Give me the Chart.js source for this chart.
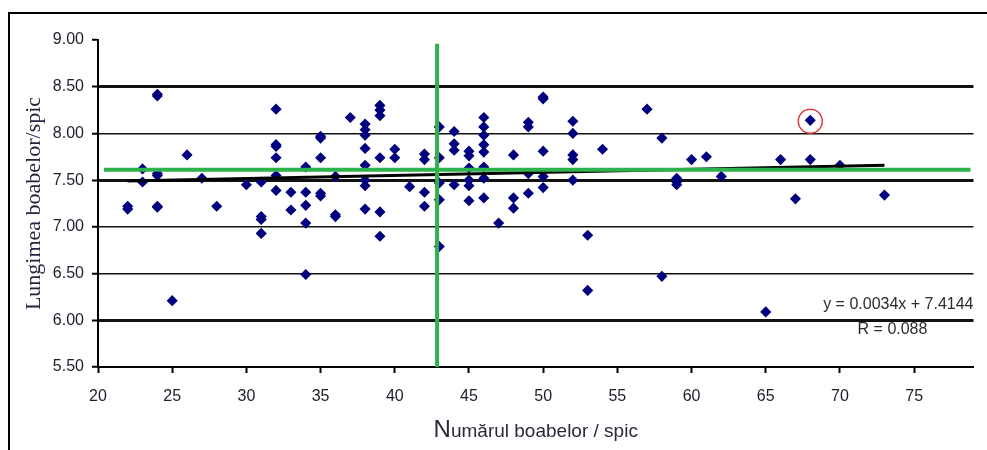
<!DOCTYPE html>
<html>
<head>
<meta charset="utf-8">
<title>Lungimea boabelor / spic</title>
<script src="https://cdn.jsdelivr.net/npm/chart.js@4.4.1/dist/chart.umd.min.js"></script>
<style>
  html, body { margin: 0; padding: 0; background: #fff; }
  #wrap { position: relative; width: 987px; height: 450px; overflow: hidden; }
  #frame {
    position: absolute; left: 8px; top: 12px; width: 1000px; height: 460px;
    border-left: 2px solid #000; border-top: 2px solid #000; pointer-events: none;
  }
</style>
</head>
<body>
<div id="wrap">
  <canvas id="chart" width="987" height="450"></canvas>
  <div id="frame"></div>
</div>
<script>
// Numarul boabelor / spic (x) and lungimea boabelor / spic (y), one entry per plant
const grainCount = [
    22, 22, 23, 23, 24, 24, 24, 24, 24, 24, 25, 26, 27, 28, 30,
    31, 31, 31, 31, 32, 32, 32, 32, 32, 32, 33, 33,
    34, 34, 34, 34, 34, 35, 35, 35, 35, 35, 36, 36, 36, 37,
    38, 38, 38, 38, 38, 38, 38, 38, 39, 39, 39, 39, 39, 39,
    40, 40, 41, 42, 42, 42, 42, 43, 43, 43, 43, 43,
    44, 44, 44, 44, 45, 45, 45, 45, 45, 45,
    46, 46, 46, 46, 46, 46, 46, 46, 47, 48, 48, 48,
    49, 49, 49, 49, 50, 50, 50, 50, 50, 52, 52, 52, 52, 52,
    53, 53, 54, 57, 58, 58, 59, 59, 59, 60, 61, 62,
    65, 66, 67, 68, 68, 70, 73
];
const grainLength = [
    7.22, 7.19, 7.62, 7.48, 8.42, 8.40, 7.57, 7.55, 7.22, 7.21, 6.21, 7.77, 7.52, 7.22, 7.45,
    7.48, 7.11, 7.08, 6.93, 8.26, 7.88, 7.86, 7.74, 7.55, 7.39, 7.37, 7.18,
    7.64, 7.37, 7.23, 7.04, 6.49, 7.97, 7.95, 7.74, 7.36, 7.33, 7.54, 7.13, 7.11, 8.17,
    8.10, 8.04, 7.98, 7.84, 7.66, 7.50, 7.44, 7.19, 8.30, 8.25, 8.19, 7.74, 7.16, 6.90,
    7.83, 7.74, 7.43, 7.78, 7.72, 7.37, 7.22, 8.07, 7.74, 7.47, 7.29, 6.79,
    8.02, 7.89, 7.82, 7.45, 7.81, 7.76, 7.63, 7.50, 7.44, 7.28,
    8.17, 8.07, 7.98, 7.88, 7.80, 7.64, 7.52, 7.31, 7.04, 7.77, 7.31, 7.20,
    8.12, 8.07, 7.57, 7.36, 8.39, 8.37, 7.81, 7.54, 7.42, 8.13, 8.00, 7.77, 7.72, 7.50,
    6.91, 6.32, 7.83, 8.26, 7.95, 6.47, 7.52, 7.48, 7.45, 7.72, 7.75, 7.54,
    6.09, 7.72, 7.30, 8.14, 7.72, 7.66, 7.34
];

// linear trend drawn by the spreadsheet (end points)
const trendX = [22, 73];
const trendY = [7.49, 7.66];

// green reference lines: mean grain count (vertical) and mean length (horizontal)
const meanLineX = [42.85, 42.85];
const meanLineXY = [5.5, 8.96];
const meanLineYX = [20.4, 78.8];
const meanLineY = [7.61, 7.61];

// circled plant
const markedX = [68];
const markedY = [8.13];

const xTicks = [20, 25, 30, 35, 40, 45, 50, 55, 60, 65, 70, 75];
const yTicks = [5.5, 6.0, 6.5, 7.0, 7.5, 8.0, 8.5, 9.0];

const xTitle = 'Numărul boabelor / spic';
const yTitle = 'Lungimea boabelor/spic';
const equationText = 'y = 0.0034x + 7.4144';
const rText = 'R = 0.088';

const toPoints = (xs, ys) => xs.map((x, i) => ({ x: x, y: ys[i] }));

const thickLines = [8.5, 7.5, 6.0];
const textColor = '#1d1d2b';
const sans = "'Liberation Sans', Arial, sans-serif";
const tickFont = { family: sans, size: 16 };

// equation, R text and the x title (first letter drawn larger, as in the original)
const textPlugin = {
    id: 'texts',
    afterDraw(chart) {
        const ctx = chart.ctx;
        const area = chart.chartArea;
        ctx.save();
        ctx.fillStyle = '#2b2b33';
        ctx.font = '16px ' + sans;
        ctx.textBaseline = 'middle';
        ctx.textAlign = 'right';
        ctx.fillText(equationText, area.right, area.bottom - 62);
        ctx.textAlign = 'center';
        ctx.fillText(rText, area.right - 81, area.bottom - 37);

        const first = xTitle.charAt(0);
        const rest = xTitle.slice(1);
        ctx.textBaseline = 'alphabetic';
        ctx.textAlign = 'left';
        ctx.fillStyle = '#2a2a3a';
        ctx.font = '24px ' + sans;
        const w1 = ctx.measureText(first).width;
        ctx.font = '19px ' + sans;
        const w2 = ctx.measureText(rest).width;
        const x0 = (area.left + area.right) / 2 - (w1 + w2) / 2;
        const base = area.bottom + 70;
        ctx.font = '24px ' + sans;
        ctx.fillText(first, x0, base);
        ctx.font = '19px ' + sans;
        ctx.fillText(rest, x0 + w1, base);
        ctx.restore();
    }
};

new Chart(document.getElementById('chart'), {
    type: 'scatter',
    data: {
        datasets: [
            {
                data: toPoints(meanLineX, meanLineXY),
                showLine: true,
                borderColor: '#2db24c',
                borderWidth: 4,
                pointRadius: 0
            },
            {
                data: toPoints(meanLineYX, meanLineY),
                showLine: true,
                borderColor: '#2db24c',
                borderWidth: 4,
                pointRadius: 0
            },
            {
                data: toPoints(markedX, markedY),
                pointStyle: 'circle',
                pointRadius: 12,
                backgroundColor: 'rgba(0,0,0,0)',
                borderColor: '#e23c3c',
                borderWidth: 1.5
            },
            {
                data: toPoints(trendX, trendY),
                showLine: true,
                borderColor: '#000',
                borderWidth: 3,
                pointRadius: 0
            },
            {
                data: toPoints(grainCount, grainLength),
                pointStyle: 'rectRot',
                pointRadius: 4.5,
                backgroundColor: '#00007f',
                borderColor: '#00007f',
                borderWidth: 1.5
            }
        ]
    },
    options: {
        responsive: false,
        devicePixelRatio: 1,
        animation: false,
        layout: { padding: { top: 40, right: 4, bottom: 0, left: 0 } },
        plugins: {
            legend: { display: false },
            tooltip: { enabled: false }
        },
        scales: {
            x: {
                type: 'linear',
                min: 20,
                max: 79,
                afterFit: scale => { scale.height = 83; },
                afterBuildTicks: scale => { scale.ticks = xTicks.map(v => ({ value: v })); },
                ticks: {
                    color: textColor,
                    font: tickFont,
                    padding: 14,
                    callback: v => v
                },
                grid: {
                    drawOnChartArea: false,
                    drawTicks: true,
                    tickLength: 6,
                    tickColor: '#000',
                    tickWidth: 2
                },
                border: { display: true, color: '#000', width: 2 },
                title: { display: false, text: xTitle }
            },
            y: {
                type: 'linear',
                min: 5.5,
                max: 9,
                afterFit: scale => { scale.width = 98; },
                afterBuildTicks: scale => { scale.ticks = yTicks.map(v => ({ value: v })); },
                ticks: {
                    color: textColor,
                    font: tickFont,
                    padding: 8,
                    callback: v => v.toFixed(2)
                },
                grid: {
                    color: c => (c.tick && c.tick.value >= 9) ? 'rgba(0,0,0,0)' : '#111',
                    lineWidth: c => (c.tick && thickLines.includes(c.tick.value)) ? 3 : 1.5,
                    tickLength: 6,
                    tickColor: '#000',
                    tickWidth: 2
                },
                border: { display: true, color: '#000', width: 2 },
                title: {
                    display: true,
                    text: yTitle,
                    color: '#24243e',
                    font: { family: "'Liberation Serif', 'Times New Roman', serif", size: 22 },
                    padding: { top: 21, bottom: 0 }
                }
            }
        }
    },
    plugins: [textPlugin]
});
</script>
</body>
</html>
